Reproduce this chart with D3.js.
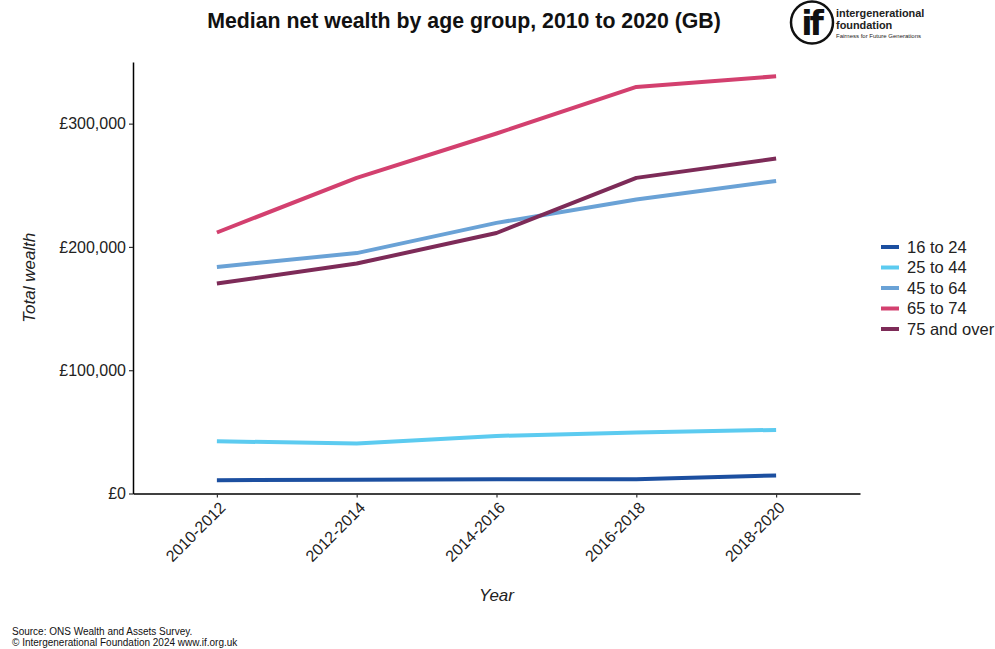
<!DOCTYPE html>
<html>
<head>
<meta charset="utf-8">
<script src="https://cdn.jsdelivr.net/npm/d3@7"></script>
<style>
  html, body { margin: 0; padding: 0; background: #fff; }
  svg { display: block; font-family: "Liberation Sans", Arial, sans-serif; }
</style>
</head>
<body>
<svg id="chart" width="995" height="649"></svg>
<script>
// Survey periods (x categories)
const periods = ["2010-2012", "2012-2014", "2014-2016", "2016-2018", "2018-2020"];

// Median net wealth (£) per age group for each period
const ageGroups = ["16 to 24", "25 to 44", "45 to 64", "65 to 74", "75 and over"];
const wealth16to24 = [10800, 11200, 11600, 11600, 14600];
const wealth25to44 = [42400, 40500, 46700, 49500, 51600];
const wealth45to64 = [183800, 195000, 219500, 238400, 253500];
const wealth65to74 = [211700, 256000, 292000, 329800, 338400];
const wealth75over = [170300, 186500, 211300, 256000, 271700];

const yTicks = [0, 100000, 200000, 300000];
const colors = ["#1c4fa0", "#5ccbf0", "#6aa2d6", "#d3406f", "#7d2b58"];

const seriesValues = [wealth16to24, wealth25to44, wealth45to64, wealth65to74, wealth75over];
const series = ageGroups.map((name, i) => ({
  name, color: colors[i],
  values: periods.map((p, j) => ({ period: p, value: seriesValues[i][j] }))
}));

const svg = d3.select("#chart");
const margin = { left: 133, right: 135, top: 62, bottom: 156 };
const W = 995, H = 649;

// Discrete x positions with 0.6 unit padding at each end
const x = d3.scalePoint().domain(periods)
  .range([margin.left, W - margin.right]).padding(0.6);
const y = d3.scaleLinear().domain([0, 350000]).range([H - margin.bottom + 0.5, margin.top]);

const fmt = v => "£" + d3.format(",")(v);

// Y axis
const yAxis = svg.append("g")
  .attr("transform", `translate(${margin.left},0)`)
  .call(d3.axisLeft(y).tickValues(yTicks).tickFormat(fmt).tickSize(4).tickPadding(3).tickSizeOuter(0));
yAxis.select(".domain").attr("stroke", "#000").attr("stroke-width", 1.5);
yAxis.selectAll(".tick line").attr("stroke", "#333").attr("stroke-width", 1.2);
yAxis.selectAll(".tick text").attr("font-size", 16).attr("fill", "#222");

// X axis with labels rotated 45°, top-right corner pinned under each tick
const xAxis = svg.append("g")
  .attr("transform", `translate(0,${y(0)})`)
  .call(d3.axisBottom(x).tickSize(4).tickPadding(3).tickSizeOuter(0));
xAxis.select(".domain").attr("stroke", "#000").attr("stroke-width", 1.5);
xAxis.selectAll(".tick line").attr("stroke", "#333").attr("stroke-width", 1.2);
xAxis.selectAll(".tick text")
  .attr("font-size", 16).attr("fill", "#222")
  .attr("text-anchor", "end")
  .attr("x", 0).attr("y", 0)
  .attr("dy", "0.72em")
  .attr("transform", "translate(1,7) rotate(-45)");

// Lines
const line = d3.line().x(d => x(d.period)).y(d => y(d.value));
svg.append("g").selectAll("path").data(series).join("path")
  .attr("d", d => line(d.values))
  .attr("fill", "none")
  .attr("stroke", d => d.color)
  .attr("stroke-width", 4)
  .attr("stroke-linejoin", "round");

// Axis titles
svg.append("text")
  .attr("transform", `translate(35,${(y(0) + margin.top) / 2}) rotate(-90)`)
  .attr("text-anchor", "middle").attr("font-size", 17).attr("font-style", "italic").attr("fill", "#222")
  .text("Total wealth");
svg.append("text")
  .attr("x", x(periods[2])).attr("y", 601)
  .attr("text-anchor", "middle").attr("font-size", 17).attr("font-style", "italic").attr("fill", "#222")
  .text("Year");

// Title
svg.append("text")
  .attr("x", 464).attr("y", 28)
  .attr("text-anchor", "middle").attr("font-size", 21.3).attr("font-weight", "bold").attr("fill", "#111")
  .text("Median net wealth by age group, 2010 to 2020 (GB)");

// Legend
const legend = svg.append("g").attr("transform", "translate(881,247)");
const rows = legend.selectAll("g").data(series).join("g")
  .attr("transform", (d, i) => `translate(0,${i * 20.5})`);
rows.append("line").attr("x1", 0).attr("x2", 18).attr("y1", 0).attr("y2", 0)
  .attr("stroke", d => d.color).attr("stroke-width", 4);
rows.append("text").attr("x", 26).attr("y", 0).attr("dy", "0.35em")
  .attr("font-size", 16.5).attr("fill", "#222").text(d => d.name);

// Logo
const logo = svg.append("g").attr("transform", "translate(812,22.5)");
logo.append("circle").attr("r", 21).attr("fill", "none").attr("stroke", "#111").attr("stroke-width", 2.5);
logo.append("text").attr("x", -1).attr("y", 12).attr("text-anchor", "middle")
  .attr("font-family", "DejaVu Sans, sans-serif").attr("font-size", 33).attr("font-weight", "bold")
  .attr("fill", "#111").attr("letter-spacing", -3).text("if");
logo.append("text").attr("x", 24).attr("y", -5.5).attr("font-size", 10.9).attr("font-weight", "bold")
  .attr("fill", "#222").text("intergenerational");
logo.append("text").attr("x", 24).attr("y", 6.5).attr("font-size", 10.9).attr("font-weight", "bold")
  .attr("fill", "#222").text("foundation");
logo.append("text").attr("x", 24).attr("y", 15.5).attr("font-size", 6).attr("fill", "#222")
  .text("Fairness for Future Generations");

// Footer
svg.append("text").attr("x", 12).attr("y", 635).attr("font-size", 10).attr("fill", "#111")
  .text("Source: ONS Wealth and Assets Survey.");
svg.append("text").attr("x", 12).attr("y", 646).attr("font-size", 10).attr("fill", "#111")
  .text("© Intergenerational Foundation 2024 www.if.org.uk");
</script>
</body>
</html>
